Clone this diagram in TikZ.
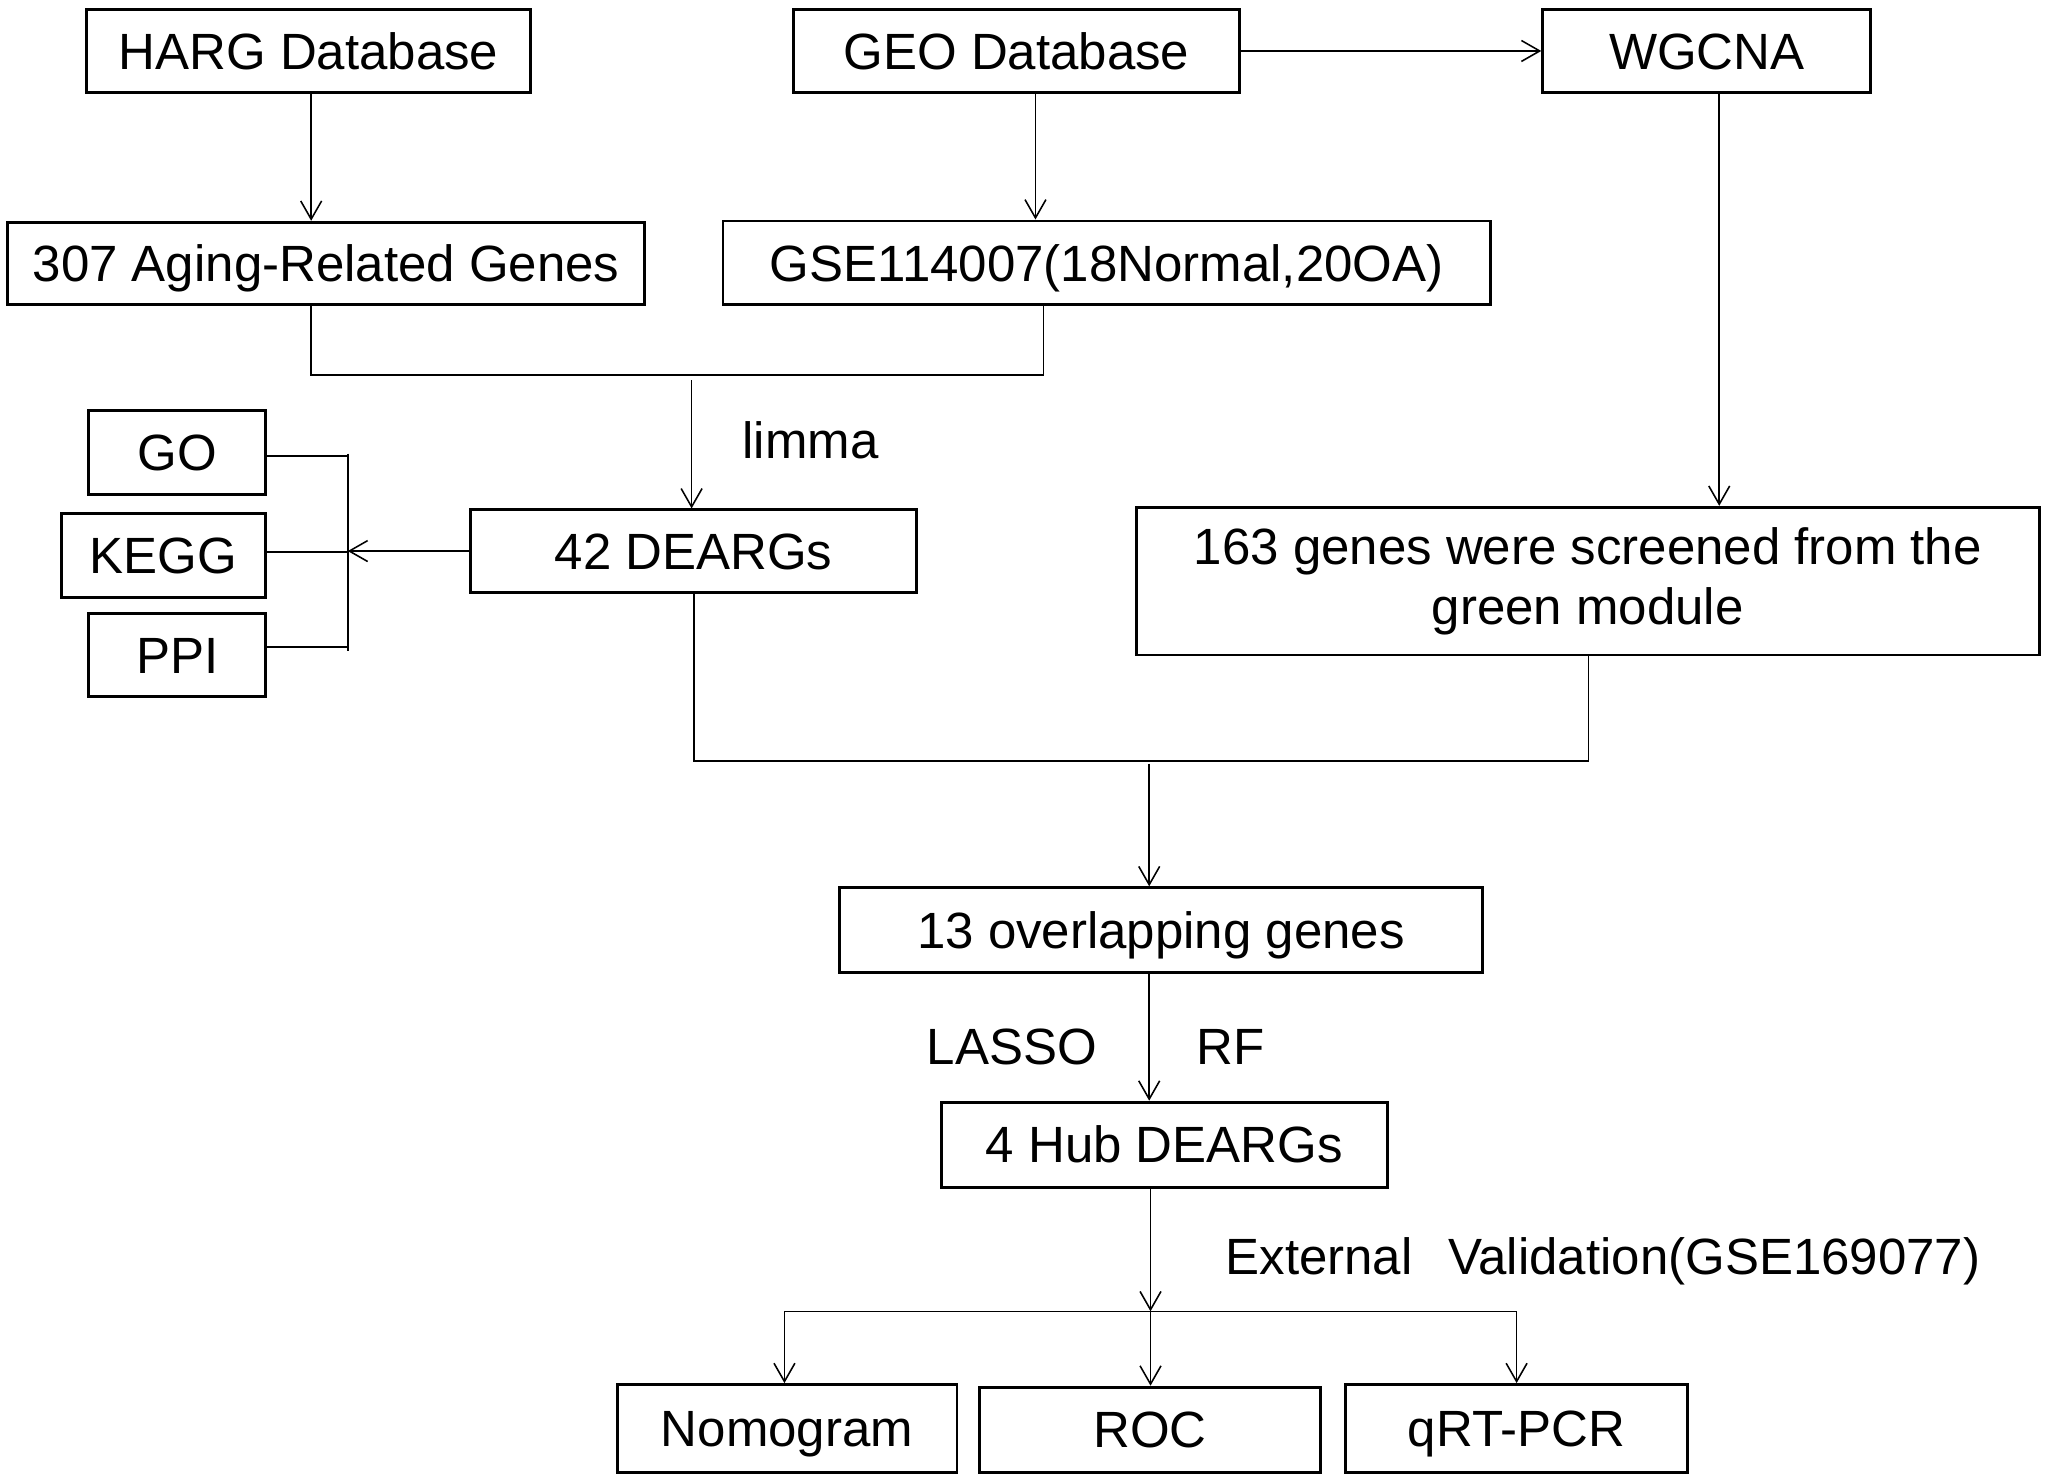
\documentclass[tikz,border=0pt]{standalone}
\usepackage{fontspec}
\setmainfont{Liberation Sans}
\usetikzlibrary{arrows.meta,calc}
\begin{document}
\begin{tikzpicture}[x=0.5pt,y=-0.5pt,
  box/.style={draw, line width=1.1pt, inner sep=0pt, font=\fontsize{19.5}{21}\selectfont, text height=14pt, text depth=0pt},
  box2/.style={draw, line width=1.1pt, inner sep=0pt, align=center, font=\fontsize{19.5}{23}\selectfont},
  conn/.style={line width=0.6pt},
  arr/.style={conn, -{Straight Barb[length=7pt,width=8pt]}},
  lbl/.style={font=\fontsize{19.5}{21}\selectfont, inner sep=0pt, text height=14pt, text depth=0pt}]
\useasboundingbox (0,0) rectangle (1568,1133);

% boxes
\node[box, minimum width=170pt, minimum height=32pt] (harg) at (236,39) {HARG Database};
\node[box, minimum width=170.5pt, minimum height=32pt] (geo) at (777.5,39) {GEO Database};
\node[box, minimum width=125.5pt, minimum height=32pt] (wgcna) at (1305.5,39) {WGCNA};
\node[box, minimum width=243.5pt, minimum height=31.5pt] (ag) at (249.5,201.5) {307 Aging-Related Genes};
\node[box, minimum width=293.5pt, minimum height=32pt] (gse) at (846.5,201) {GSE114007(18Normal,20OA)};
\node[box, minimum width=170.5pt, minimum height=31.5pt] (deargs) at (530.5,421.5) {42 DEARGs};
\node[box, minimum width=67.5pt, minimum height=32pt] (go) at (135.5,346) {GO};
\node[box, minimum width=78pt, minimum height=32pt] (kegg) at (125,425) {KEGG};
\node[box, minimum width=67.5pt, minimum height=32pt] (ppi) at (135.5,501) {PPI};
\node[box2, minimum width=345.5pt, minimum height=56.5pt] (green) at (1214.5,444.5) {163 genes were screened from the\\green module};
\node[box, minimum width=246pt, minimum height=32.5pt] (overlap) at (888,711.5) {13 overlapping genes};
\node[box, minimum width=170.5pt, minimum height=32.5pt] (hub) at (890.5,875.5) {4 Hub DEARGs};
\node[box, minimum width=130pt, minimum height=33.5pt] (nomo) at (602,1092.5) {Nomogram};
\node[box, minimum width=130.5pt, minimum height=32.5pt] (roc) at (879.5,1093.5) {ROC};
\node[box, minimum width=131pt, minimum height=33.5pt] (qrt) at (1160,1092.5) {qRT-PCR};

% labels
\node[lbl] (limma) at (620,337) {limma};
\node[lbl] (lasso) at (774,800) {LASSO};
\node[lbl] (rf) at (941,800) {RF};
\node[lbl, anchor=base west, text height=, text depth=] (ext) at (937,975) {External\hspace{0.7em}Validation(GSE169077)};

% coordinates
\coordinate (gx) at (792,0);
\coordinate (m1) at (238,287);
\coordinate (m2) at (798,287);
\coordinate (m3) at (529,291);
\coordinate (b1) at (266,349);
\coordinate (b2) at (266,422);
\coordinate (b3) at (266,495);
\coordinate (bt) at (266,347);
\coordinate (bb) at (266,498);
\coordinate (j1) at (531,582);
\coordinate (j2) at (1215,582);
\coordinate (j3) at (879,582);
\coordinate (wx) at (1315,0);
\coordinate (s) at (880,1003);
\coordinate (s1) at (600,1003);
\coordinate (s3) at (1160,1003);

% connectors
\draw[arr] (harg.south -| m1) -- (ag.north -| m1);
\draw[arr] (geo.south -| gx) -- (gse.north -| gx);
\draw[arr] (geo.east) -- (wgcna.west);
\draw[conn] (ag.south -| m1) -- (m1) -- (m2) -- (gse.south -| m2);
\draw[arr] (m3) -- (deargs.north -| m3);
\draw[arr] (deargs.west) -- (deargs.west -| b2);
\draw[conn] (bt) -- (bb);
\draw[conn] (go.east |- b1) -- (b1);
\draw[conn] (kegg.east |- b2) -- (b2);
\draw[conn] (ppi.east |- b3) -- (b3);
\draw[conn] (deargs.south -| j1) -- (j1) -- (j2) -- (green.south -| j2);
\draw[arr] (wgcna.south -| wx) -- (green.north -| wx);
\draw[arr] ([yshift=-1pt]j3) -- (overlap.north -| j3);
\draw[arr] (overlap.south -| j3) -- (hub.north -| j3);
\draw[arr] (hub.south -| s) -- (s);
\draw[conn] (s1) -- (s3);
\draw[arr] (s1) -- (nomo.north -| s1);
\draw[arr] (s) -- (roc.north -| s);
\draw[arr] (s3) -- (qrt.north -| s3);
\end{tikzpicture}
\end{document}
